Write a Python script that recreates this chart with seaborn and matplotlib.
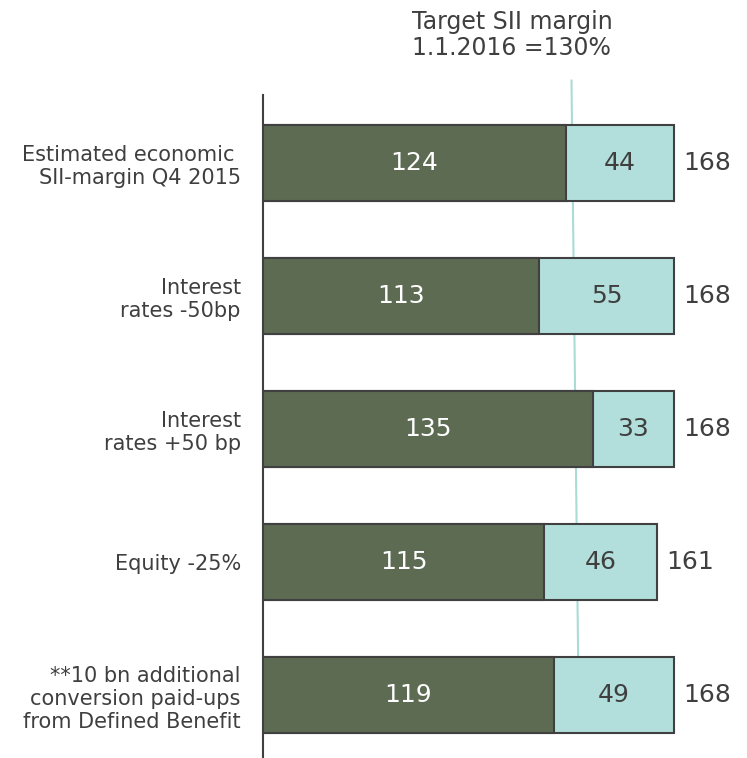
import numpy as np
import pandas as pd
import matplotlib
matplotlib.use("Agg")
import matplotlib.pyplot as plt
import seaborn as sns

# data
categories = ["Estimated economic \nSII-margin Q4 2015",
              "Interest\nrates -50bp",
              "Interest\nrates +50 bp",
              "Equity -25%",
              "**10 bn additional\nconversion paid-ups\nfrom Defined Benefit"]
base_margin = [124, 113, 135, 115, 119]
excess_margin = [44, 55, 33, 46, 49]
totals = [b + e for b, e in zip(base_margin, excess_margin)]
target_x = [126.2, 129.1]      # target line drifts slightly in the source
target_y = [-0.62, 4.0]

dark = "#5d6b53"
light = "#b2dfdb"
edge = "#404040"
text_col = "#3f3f3f"

sns.set_style("white")
plt.rcParams['font.family'] = ['DejaVu Sans']

df = pd.DataFrame({"cat": categories, "base": base_margin,
                   "extra": excess_margin, "total": totals})

fig = plt.figure(figsize=(7.47, 7.58), dpi=100)
ax = fig.add_axes([263 / 747, 0.0, 1 - 263 / 747, (758 - 95) / 758])

# target line behind the bars
ax.plot(target_x, target_y, color="#a9dbd7", lw=1.5, zorder=0, clip_on=False)

sns.barplot(data=df, x="total", y="cat", orient="h", color=light, saturation=1,
            edgecolor=edge, linewidth=1.5, width=0.57, ax=ax, zorder=2)
sns.barplot(data=df, x="base", y="cat", orient="h", color=dark, saturation=1,
            edgecolor=edge, linewidth=1.5, width=0.57, ax=ax, zorder=3)

for i, row in df.iterrows():
    ax.text(row["base"] / 2, i, str(row["base"]), color="white", fontsize=18,
            ha="center", va="center", zorder=4)
    ax.text(row["base"] + row["extra"] / 2, i, str(row["extra"]), color=text_col,
            fontsize=18, ha="center", va="center", zorder=4)
    ax.text(row["total"] + 4, i, str(row["total"]), color=text_col,
            fontsize=18, ha="left", va="center", zorder=4)

ax.set_xlim(0, 198)
ax.set_ylim(4.47, -0.51)
ax.set_xlabel("")
ax.set_ylabel("")
ax.set_xticks([])
ax.tick_params(axis="y", length=0, pad=16, labelsize=15, labelcolor=text_col)
for lab in ax.get_yticklabels():
    lab.set_multialignment("right")

for s in ["top", "right", "bottom"]:
    ax.spines[s].set_visible(False)
ax.spines["left"].set_color(edge)
ax.spines["left"].set_linewidth(1.5)

fig.text(412 / 747, 1 - 35 / 758, "Target SII margin\n1.1.2016 =130%",
         ha="left", va="center", fontsize=17, color=text_col, linespacing=1.1)

fig.savefig("out.png", dpi=100)
